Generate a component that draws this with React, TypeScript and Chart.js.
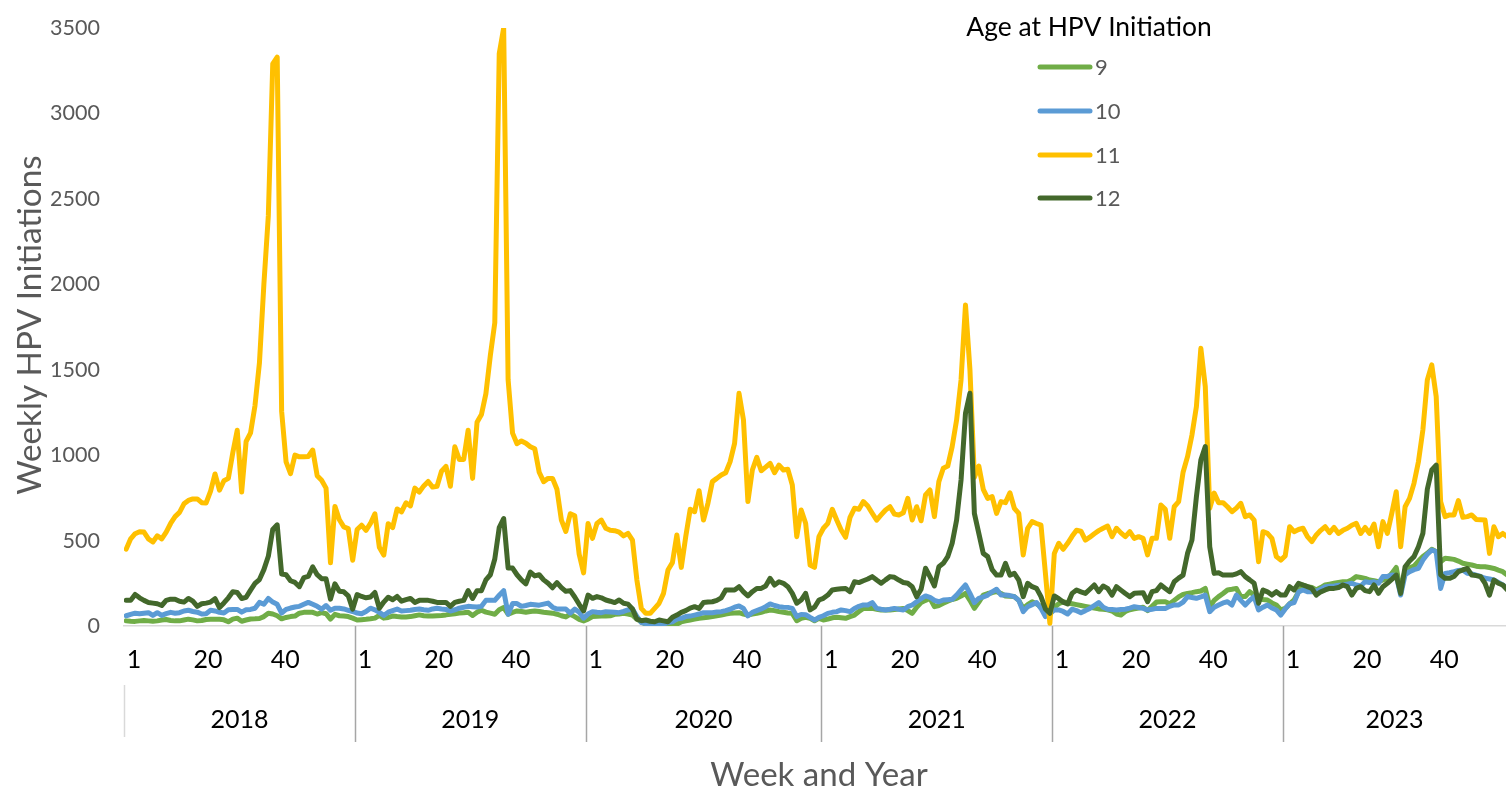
import React, { useEffect, useRef } from 'react';
import { Chart, registerables } from 'chart.js';

Chart.register(...registerables);

// ---------- data ----------
const years = ['2018', '2019', '2020', '2021', '2022', '2023'];
const weeksPerYear = [52, 52, 53, 52, 52, 52];
const weekTickLabels = ['1', '20', '40'];
const yTicks = [0, 500, 1000, 1500, 2000, 2500, 3000, 3500];
const seriesNames = ['9', '10', '11', '12'];
const seriesColors = ['#70AD47', '#5B9BD5', '#FFC000', '#43682B'];

// Age 9 (weekly, 2018 .. 2023)
const age9 = [
  // 2018
  30, 28, 27, 30, 32, 30, 28, 30, 35, 38, 32, 30, 30, 35, 40, 36, 30, 32, 38, 39, 40, 39, 36, 25, 40, 46, 28, 35, 41, 42, 44, 55, 75, 70, 60, 42, 50, 55, 58, 75, 80, 80, 80, 70, 78, 72, 40, 68, 60, 58, 55, 46,
  // 2019
  35, 37, 39, 42, 46, 62, 46, 50, 58, 55, 53, 53, 55, 60, 65, 60, 58, 58, 60, 62, 65, 69, 72, 76, 78, 81, 62, 81, 92, 81, 75, 69, 95, 108, 69, 80, 88, 85, 81, 85, 88, 85, 81, 78, 75, 69, 60, 53, 69, 55, 39, 30,
  // 2020
  40, 55, 57, 59, 59, 60, 68, 70, 74, 70, 64, 40, 25, 10, 6, 6, 6, 6, 6, 6, 10, 25, 30, 35, 40, 45, 48, 51, 55, 60, 64, 70, 74, 76, 78, 70, 64, 70, 74, 80, 88, 94, 90, 84, 80, 76, 74, 31, 45, 51, 45, 31, 45,
  // 2021
  35, 40, 48, 51, 48, 45, 55, 64, 85, 103, 103, 103, 98, 94, 94, 94, 96, 100, 103, 90, 74, 110, 137, 150, 162, 113, 120, 133, 145, 155, 162, 175, 191, 150, 103, 140, 181, 190, 195, 201, 190, 176, 174, 172, 150, 103, 125, 142, 130, 113, 80, 64,
  // 2022
  110, 130, 142, 135, 130, 125, 120, 115, 110, 105, 100, 98, 95, 88, 70, 64, 85, 95, 100, 105, 110, 90, 115, 140, 142, 142, 130, 150, 170, 185, 191, 195, 201, 205, 220, 113, 150, 172, 190, 211, 215, 220, 172, 172, 201, 180, 162, 155, 152, 135, 123, 94,
  // 2023
  103, 130, 152, 200, 240, 230, 225, 211, 225, 240, 245, 250, 255, 259, 259, 270, 289, 284, 279, 269, 265, 259, 270, 279, 308, 343, 201, 328, 340, 350, 380, 406, 425, 449, 435, 376, 396, 393, 390, 380, 367, 362, 357, 350, 347, 347, 342, 337, 327, 318, 298, 290,
];

// Age 10
const age10 = [
  // 2018
  60, 68, 75, 72, 75, 78, 62, 78, 62, 72, 80, 75, 78, 88, 92, 85, 81, 70, 72, 92, 88, 80, 76, 95, 97, 97, 81, 95, 97, 104, 138, 127, 161, 140, 127, 76, 97, 105, 111, 115, 127, 138, 127, 115, 99, 120, 92, 104, 104, 100, 92, 85,
  // 2019
  76, 72, 85, 104, 95, 80, 62, 81, 90, 99, 88, 90, 92, 97, 99, 95, 92, 100, 104, 100, 97, 88, 95, 104, 110, 115, 113, 111, 115, 150, 150, 150, 180, 207, 69, 131, 131, 115, 120, 127, 125, 122, 128, 134, 110, 99, 99, 99, 76, 99, 81, 46,
  // 2020
  70, 84, 80, 78, 84, 82, 80, 78, 85, 94, 100, 55, 20, 15, 12, 12, 12, 12, 20, 25, 40, 45, 55, 58, 64, 70, 78, 78, 78, 82, 84, 90, 98, 110, 117, 103, 59, 80, 90, 100, 113, 129, 120, 113, 110, 109, 103, 55, 68, 66, 50, 35, 51,
  // 2021
  60, 74, 80, 84, 94, 90, 84, 103, 115, 123, 123, 137, 103, 98, 94, 98, 103, 98, 94, 113, 123, 142, 160, 176, 168, 150, 142, 152, 154, 156, 181, 211, 240, 191, 137, 162, 170, 181, 200, 215, 181, 181, 178, 172, 150, 84, 113, 125, 137, 103, 55, 74,
  // 2022
  94, 94, 85, 70, 98, 90, 78, 90, 103, 120, 137, 110, 98, 96, 94, 96, 98, 105, 113, 108, 103, 94, 98, 103, 103, 103, 115, 123, 123, 140, 172, 167, 162, 170, 181, 84, 110, 123, 135, 142, 123, 181, 150, 123, 150, 172, 94, 110, 123, 105, 94, 64,
  // 2023
  100, 130, 137, 200, 211, 201, 201, 205, 215, 230, 232, 234, 238, 240, 245, 250, 240, 234, 259, 255, 259, 250, 289, 290, 298, 295, 181, 300, 318, 330, 337, 386, 420, 445, 435, 220, 308, 312, 318, 325, 328, 308, 305, 298, 290, 279, 275, 269, 255, 240, 220, 215,
];

// Age 11
const age11 = [
  // 2018
  450, 510, 540, 552, 550, 510, 492, 528, 510, 550, 600, 640, 665, 715, 735, 744, 744, 722, 720, 790, 890, 795, 850, 864, 1014, 1146, 784, 1080, 1130, 1290, 1540, 2000, 2400, 3290, 3330, 1256, 960, 892, 1000, 990, 990, 992, 1030, 880, 853, 807, 370, 700, 622, 580, 570, 385,
  // 2019
  565, 590, 560, 600, 657, 461, 415, 599, 576, 685, 668, 721, 703, 807, 784, 820, 846, 813, 818, 906, 934, 818, 1049, 975, 975, 1146, 864, 1192, 1238, 1360, 1584, 1775, 3350, 3500, 1441, 1129, 1067, 1083, 1070, 1049, 1037, 900, 845, 864, 864, 800, 620, 553, 657, 645, 420, 311,
  // 2020
  600, 513, 600, 620, 572, 560, 558, 550, 527, 542, 503, 269, 103, 74, 74, 103, 133, 191, 328, 371, 533, 343, 523, 683, 669, 792, 620, 718, 845, 864, 884, 897, 962, 1069, 1362, 1206, 728, 913, 987, 909, 930, 952, 897, 942, 913, 917, 825, 523, 679, 601, 357, 343, 523,
  // 2021
  572, 601, 683, 620, 562, 519, 636, 689, 683, 728, 702, 660, 620, 650, 679, 698, 655, 650, 663, 747, 620, 698, 616, 767, 796, 640, 845, 923, 936, 1050, 1206, 1440, 1879, 1500, 870, 936, 800, 747, 757, 659, 728, 722, 780, 689, 659, 416, 572, 611, 600, 590, 308, 16,
  // 2022
  425, 484, 449, 484, 525, 560, 555, 503, 520, 540, 558, 572, 585, 523, 572, 545, 523, 552, 513, 523, 513, 416, 513, 513, 708, 683, 513, 698, 728, 900, 991, 1118, 1284, 1625, 1401, 689, 778, 722, 722, 698, 669, 690, 718, 640, 650, 620, 376, 552, 542, 513, 406, 386,
  // 2023
  410, 581, 552, 565, 572, 523, 494, 533, 560, 581, 546, 577, 542, 560, 572, 590, 601, 542, 577, 542, 597, 464, 611, 542, 659, 786, 464, 698, 747, 835, 962, 1147, 1440, 1528, 1342, 728, 640, 650, 650, 734, 636, 640, 650, 624, 622, 620, 425, 581, 523, 542, 523, 500,
];

// Age 12
const age12 = [
  // 2018
  150, 150, 185, 165, 150, 138, 134, 130, 120, 150, 157, 157, 145, 140, 161, 145, 115, 130, 134, 140, 160, 108, 135, 165, 200, 196, 161, 168, 210, 249, 272, 330, 408, 565, 592, 304, 300, 265, 255, 230, 283, 290, 346, 300, 277, 277, 157, 247, 203, 200, 177, 99,
  // 2019
  184, 173, 165, 170, 196, 104, 140, 168, 154, 173, 145, 154, 161, 138, 150, 150, 150, 145, 138, 138, 138, 115, 138, 145, 150, 207, 161, 207, 207, 270, 300, 392, 576, 629, 340, 339, 300, 270, 247, 316, 293, 300, 270, 250, 224, 254, 225, 203, 207, 170, 127, 88,
  // 2020
  181, 162, 172, 165, 152, 145, 137, 152, 133, 128, 100, 40, 31, 35, 28, 25, 35, 30, 25, 51, 64, 80, 90, 105, 113, 103, 137, 140, 142, 150, 165, 211, 211, 211, 230, 200, 176, 201, 220, 220, 234, 279, 240, 259, 250, 230, 191, 133, 152, 191, 94, 110, 152,
  // 2021
  162, 181, 211, 215, 218, 220, 201, 259, 254, 265, 275, 289, 269, 250, 270, 289, 285, 269, 255, 250, 230, 172, 215, 338, 289, 234, 347, 367, 406, 484, 620, 855, 1245, 1362, 659, 542, 425, 406, 330, 298, 298, 367, 298, 308, 269, 172, 250, 230, 220, 172, 100, 74,
  // 2022
  176, 160, 140, 129, 191, 211, 200, 191, 215, 240, 201, 234, 220, 181, 230, 210, 190, 172, 191, 193, 195, 142, 201, 207, 240, 220, 201, 259, 280, 298, 425, 503, 757, 972, 1050, 464, 308, 312, 298, 298, 298, 305, 318, 289, 270, 250, 133, 211, 200, 181, 201, 181,
  // 2023
  181, 230, 211, 250, 240, 230, 220, 181, 200, 211, 220, 220, 225, 240, 230, 181, 220, 230, 207, 201, 240, 191, 230, 250, 273, 298, 191, 347, 380, 406, 464, 542, 800, 913, 942, 300, 279, 279, 290, 318, 328, 337, 298, 295, 289, 250, 181, 269, 250, 240, 211, 200,
];

const seriesValues = [age9, age10, age11, age12];

// ---------- layout / style ----------
const W = 1506;
const H = 789;
const FONT = 'Lato, "Open Sans", "Noto Sans", sans-serif';
const GRAY_TEXT = '#595959';
const PLOT_LEFT = 124;
const PAD_TOP = 28;
const PLOT_BOTTOM = 626;
const PX_PER_WEEK = 4.4406;
const X_MIN = -0.5;
const X_MAX = (W - PLOT_LEFT) / PX_PER_WEEK - 0.5;
// where each week label sits inside its year group (in week widths from the group's left edge)
const WEEK_LABEL_SLOTS = [2.25, 18.9, 36.3];

const yearStarts: number[] = [];
{
  let s = 0;
  for (const n of weeksPerYear) {
    yearStarts.push(s);
    s += n;
  }
}

const xTickList: { value: number; label: string }[] = [];
yearStarts.forEach((s) => {
  weekTickLabels.forEach((lab, j) => {
    const v = s - 0.5 + WEEK_LABEL_SLOTS[j];
    if (v >= X_MIN && v <= X_MAX) xTickList.push({ value: v, label: lab });
  });
});

function fitSize(ctx: CanvasRenderingContext2D, text: string, inkWidth: number, weight = 'normal') {
  ctx.font = `${weight} 100px ${FONT}`;
  const m = ctx.measureText(text);
  const w = (m.actualBoundingBoxLeft || 0) + (m.actualBoundingBoxRight || m.width);
  return (100 * inkWidth) / w;
}

const decorPlugin = {
  id: 'decor',
  afterDraw(chart: any) {
    const { ctx, chartArea, scales } = chart;
    const xs = scales.x;
    ctx.save();

    // year group separators + labels
    ctx.font = `25px ${FONT}`;
    ctx.fillStyle = '#000000';
    ctx.textAlign = 'center';
    ctx.textBaseline = 'alphabetic';
    years.forEach((yr, i) => {
      const s = yearStarts[i];
      const n = weeksPerYear[i];
      const left = xs.getPixelForValue(s - 0.5);
      const right = Math.min(xs.getPixelForValue(s + n - 0.5), chartArea.right);
      ctx.beginPath();
      if (i === 0) {
        ctx.strokeStyle = '#D9D9D9';
        ctx.lineWidth = 1.5;
        ctx.moveTo(Math.round(left) + 0.5, 685);
        ctx.lineTo(Math.round(left) + 0.5, 737);
      } else {
        ctx.strokeStyle = '#A6A6A6';
        ctx.lineWidth = 1.5;
        ctx.moveTo(Math.round(left) + 0.5, chartArea.bottom);
        ctx.lineTo(Math.round(left) + 0.5, 742);
      }
      ctx.stroke();
      ctx.fillText(yr, (left + right) / 2, 728);
    });

    // axis titles
    ctx.fillStyle = GRAY_TEXT;
    ctx.textAlign = 'center';
    ctx.textBaseline = 'middle';
    const yTitle = 'Weekly HPV Initiations';
    const ySize = fitSize(ctx, yTitle, 338);
    ctx.font = `${ySize}px ${FONT}`;
    ctx.save();
    ctx.translate(30, 325);
    ctx.rotate(-Math.PI / 2);
    ctx.fillText(yTitle, 0, 0);
    ctx.restore();

    const xTitle = 'Week and Year';
    const xSize = fitSize(ctx, xTitle, 217);
    ctx.font = `${xSize}px ${FONT}`;
    ctx.fillText(xTitle, 819, 775);

    // legend
    const lTitle = 'Age at HPV Initiation';
    const lSize = fitSize(ctx, lTitle, 244);
    ctx.font = `${lSize}px ${FONT}`;
    ctx.fillStyle = '#000000';
    ctx.fillText(lTitle, 1089, 27);

    const rowY = [67, 111, 155, 198];
    ctx.font = `22px ${FONT}`;
    ctx.textAlign = 'left';
    seriesNames.forEach((name, i) => {
      ctx.beginPath();
      ctx.strokeStyle = seriesColors[i];
      ctx.lineWidth = 5;
      ctx.lineCap = 'round';
      ctx.moveTo(1040, rowY[i]);
      ctx.lineTo(1090, rowY[i]);
      ctx.stroke();
      ctx.fillStyle = GRAY_TEXT;
      ctx.fillText(name, 1095, rowY[i] + 1);
    });

    ctx.restore();
  },
};

export default function App() {
  const ref = useRef<HTMLCanvasElement>(null);

  useEffect(() => {
    const canvas = ref.current;
    if (!canvas) return;

    const datasets = seriesValues.map((vals, i) => ({
      label: seriesNames[i],
      data: vals.map((v, k) => ({ x: k, y: v })),
      borderColor: seriesColors[i],
      backgroundColor: seriesColors[i],
      borderWidth: 5,
      pointRadius: 0,
      pointHoverRadius: 0,
      tension: 0,
      fill: false,
      borderJoinStyle: 'round' as const,
      borderCapStyle: 'round' as const,
      order: 4 - i,
    }));

    const chart = new Chart(canvas, {
      type: 'line',
      data: { datasets },
      options: {
        animation: false,
        responsive: false,
        devicePixelRatio: 1,
        layout: { autoPadding: false, padding: { left: 0, right: 0, top: PAD_TOP, bottom: 0 } },
        plugins: {
          legend: { display: false },
          tooltip: { enabled: false },
          title: { display: false },
        },
        scales: {
          x: {
            type: 'linear',
            min: X_MIN,
            max: X_MAX,
            grid: { display: false, drawTicks: false },
            border: { display: true, color: '#D9D9D9', width: 1.5 },
            afterBuildTicks: (scale: any) => {
              scale.ticks = xTickList.map((t) => ({ value: t.value }));
            },
            afterFit: (scale: any) => {
              scale.height = H - PLOT_BOTTOM;
              scale.paddingLeft = 0;
              scale.paddingRight = 0;
            },
            ticks: {
              autoSkip: false,
              maxRotation: 0,
              minRotation: 0,
              padding: 19,
              color: '#000000',
              font: { family: FONT, size: 25 },
              callback: (_value: any, index: number) => (xTickList[index] ? xTickList[index].label : ''),
            },
          },
          y: {
            type: 'linear',
            min: 0,
            max: 3500,
            grid: { display: false, drawTicks: false },
            border: { display: false },
            afterBuildTicks: (scale: any) => {
              scale.ticks = yTicks.map((v) => ({ value: v }));
            },
            afterFit: (scale: any) => {
              scale.width = PLOT_LEFT;
              scale.paddingTop = 0;
              scale.paddingBottom = 0;
            },
            ticks: {
              padding: 24,
              color: GRAY_TEXT,
              font: { family: FONT, size: 21.5 },
              callback: (value: any) => String(value),
            },
          },
        },
      },
      plugins: [decorPlugin],
    });

    return () => chart.destroy();
  }, []);

  return (
    <div style={{ position: 'fixed', left: 0, top: 0, width: W, height: H, background: '#ffffff', overflow: 'hidden' }}>
      <canvas ref={ref} width={W} height={H} style={{ display: 'block', width: W, height: H }} />
    </div>
  );
}
